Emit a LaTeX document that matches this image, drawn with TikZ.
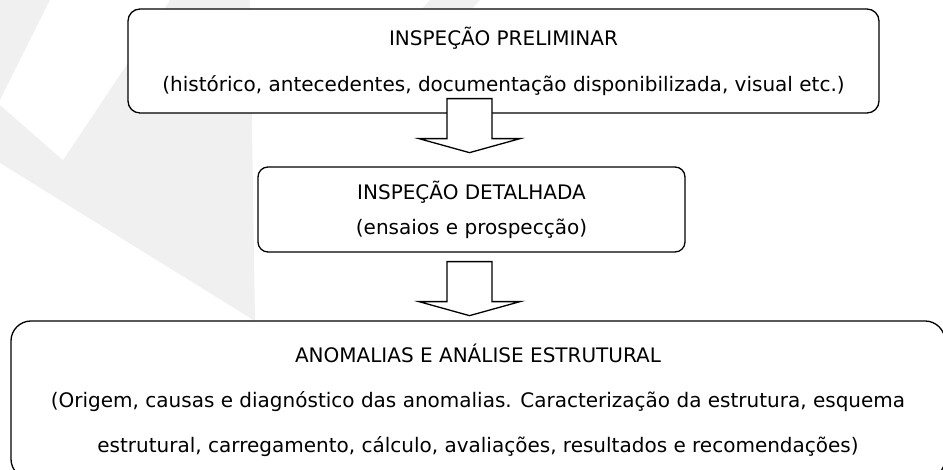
\documentclass[tikz,border=0pt]{standalone}
\usepackage{fontspec}
\setmainfont{DejaVu Sans}
\usetikzlibrary{calc}
\definecolor{fundo}{HTML}{F0F0F0}
\newcommand{\espessura}{1.3pt}
\newcommand{\setabaixo}[1]{%
  \filldraw[draw=black, fill=white, line width=\espessura, line join=miter]
  (#1) ++(-22.5,0) -- ++(0,-40) -- ++(-28,0) -- ++(50.5,-14)
  -- ++(50.5,14) -- ++(-28,0) -- ++(0,40) -- cycle;}
\tikzset{
  caixa/.style={draw, fill=white, line width=\espessura, rounded corners=12pt,
    align=center, inner sep=0pt, font=\fontsize{20}{35}\selectfont},
}

\begin{document}
\begin{tikzpicture}[x=1pt, y=1pt]

  \useasboundingbox (0,0) rectangle (943,470);
  \clip (0,0) rectangle (943,470);

  % draw the background
  \fill[fundo] (170,470) -- (250,470) -- (255,149) -- (0,307) -- (0,470) -- cycle;
  \fill[white] (50,470) -- (170,470) -- (63,310) -- (0,365) -- (0,370) -- cycle;
  \fill[fundo] (430,470) -- (480,470) -- (472,461) -- (422,461) -- cycle;

  % draw the boxes
  \node[caixa, minimum width=751pt, minimum height=104pt] (prelim) at (503.5,409)
    {INSPEÇÃO PRELIMINAR\\[11pt](histórico, antecedentes, documentação disponibilizada, visual etc.)};
  \node[caixa, minimum width=427pt, minimum height=85pt, rounded corners=10pt] (detal) at (471.5,260.5)
    {INSPEÇÃO DETALHADA\\(ensaios e prospecção)};
  \node[caixa, minimum width=934pt, minimum height=158pt, rounded corners=20pt] (anomal) at (478,70)
    {ANOMALIAS E ANÁLISE ESTRUTURAL\\[10pt](Origem, causas e diagnóstico das anomalias. Caracterização da estrutura, esquema\\[10pt]estrutural, carregamento, cálculo, avaliações, resultados e recomendações)};

  % draw the arrows
  \coordinate (s1) at ($(detal.north |- prelim.south)+(-2,15)$);
  \coordinate (s2) at ($(detal.south)+(-2,-9)$);
  \setabaixo{s1}
  \setabaixo{s2}

\end{tikzpicture}
\end{document}
